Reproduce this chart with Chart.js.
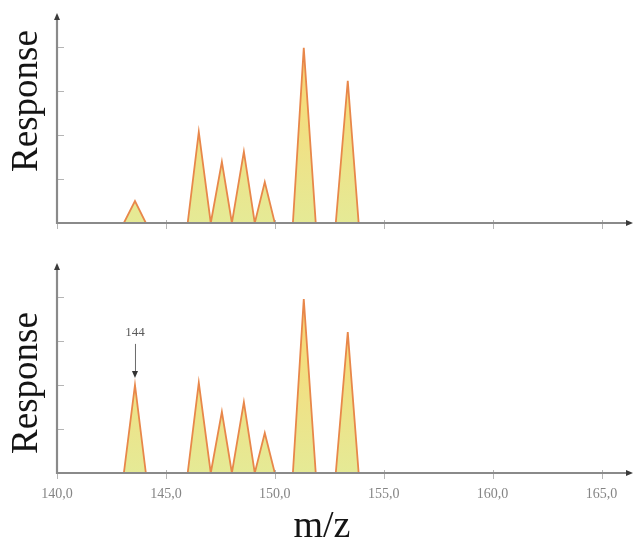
<!DOCTYPE html>
<html>
<head>
<meta charset="utf-8">
<script src="https://cdn.jsdelivr.net/npm/chart.js@4/dist/chart.umd.min.js"></script>
<style>
  html, body { margin: 0; padding: 0; background: #ffffff; }
  #wrap { position: relative; width: 633px; height: 542px; overflow: hidden; }
  canvas { position: absolute; left: 0; }
</style>
</head>
<body>
<div id="wrap">
  <canvas id="top" width="633" height="240" style="top:0"></canvas>
  <canvas id="bottom" width="633" height="302" style="top:240px"></canvas>
</div>
<script>
// ---- data (m/z vertices of each peak triangle; null separates peaks) ----
const mzValues = [143.07, 143.58, 144.08, 145.0, 146.0, 146.51, 147.06, 147.57, 148.03, 148.58, 149.08, 149.54, 150.0, 150.4, 150.83, 151.33, 151.88, 152.3, 152.8, 153.35, 153.85];
const responseTop = [0, 0.5, 0, null, 0, 2.07, 0, 1.39, 0, 1.62, 0, 0.93, 0, null, 0, 3.98, 0, null, 0, 3.23, 0];
const responseBottom = [0, 2.0, 0, null, 0, 2.05, 0, 1.39, 0, 1.61, 0, 0.91, 0, null, 0, 3.95, 0, null, 0, 3.2, 0];
const xTickValues = [140, 145, 150, 155, 160, 165];
const yTickValues = [1, 2, 3, 4];
const annotationMz = 143.58;
const annotationLabel = "144";
const yTitle = "Response";
const xTitle = "m/z";

function points(resp) { return mzValues.map((x, i) => ({ x: x, y: resp[i] })); }

function fillGradient(ctx) {
  const chart = ctx.chart;
  const a = chart.chartArea;
  if (!a) return 'rgba(240,226,130,0.8)';
  const g = chart.ctx.createLinearGradient(0, a.top, 0, a.bottom);
  g.addColorStop(0, '#f4c46e');
  g.addColorStop(0.4, '#f5dc7c');
  g.addColorStop(1, '#e5ea96');
  return g;
}

const axesPlugin = {
  id: 'axesPlugin',
  afterDatasetsDraw(chart, args, opts) {
    const { ctx, chartArea: a, scales: { x, y } } = chart;
    ctx.save();
    // y-axis ticks
    ctx.strokeStyle = '#b5b5b5'; ctx.lineWidth = 1;
    yTickValues.forEach(v => {
      const py = Math.round(y.getPixelForValue(v)) + 0.5;
      ctx.beginPath(); ctx.moveTo(a.left, py); ctx.lineTo(a.left + 7, py); ctx.stroke();
    });
    // x-axis ticks
    xTickValues.forEach(v => {
      const px = Math.round(x.getPixelForValue(v)) + 0.5;
      ctx.beginPath(); ctx.moveTo(px, a.bottom - 3); ctx.lineTo(px, a.bottom + 6); ctx.stroke();
    });
    // axis lines
    ctx.strokeStyle = '#8a8a8a'; ctx.lineWidth = 2.2;
    ctx.beginPath(); ctx.moveTo(a.left, a.bottom + 1); ctx.lineTo(a.left, a.top + 2); ctx.stroke();
    ctx.beginPath(); ctx.moveTo(a.left - 1, a.bottom); ctx.lineTo(a.right - 4, a.bottom); ctx.stroke();
    // arrow heads
    ctx.fillStyle = '#3a3a3a';
    ctx.beginPath(); ctx.moveTo(a.left, a.top - 3); ctx.lineTo(a.left - 3, a.top + 4); ctx.lineTo(a.left + 3, a.top + 4); ctx.closePath(); ctx.fill();
    ctx.beginPath(); ctx.moveTo(a.right + 1, a.bottom); ctx.lineTo(a.right - 6, a.bottom - 3); ctx.lineTo(a.right - 6, a.bottom + 3); ctx.closePath(); ctx.fill();
    // axis titles
    ctx.fillStyle = '#141414';
    ctx.font = '37px "Liberation Serif", "DejaVu Serif", serif';
    ctx.textAlign = 'center'; ctx.textBaseline = 'middle';
    ctx.save();
    ctx.translate(opts.yTitleX, opts.yTitleY);
    ctx.rotate(-Math.PI / 2);
    ctx.fillText(yTitle, 0, 0);
    ctx.restore();
    if (opts.showXTitle) {
      ctx.font = '38px "Liberation Serif", "DejaVu Serif", serif';
      ctx.textBaseline = 'alphabetic';
      ctx.fillText(xTitle, opts.xTitleX, opts.xTitleY);
    }
    if (opts.annotate) {
      const px = x.getPixelForValue(annotationMz);
      const py = y.getPixelForValue(responseBottom[mzValues.indexOf(annotationMz)]);
      ctx.fillStyle = '#5a5a5a';
      ctx.font = '13px "Liberation Serif", "DejaVu Serif", serif';
      ctx.textBaseline = 'middle';
      ctx.fillText(annotationLabel, px, py - 52);
      ctx.strokeStyle = '#6a6a6a'; ctx.lineWidth = 1;
      ctx.beginPath(); ctx.moveTo(px + 0.5, py - 41); ctx.lineTo(px + 0.5, py - 13); ctx.stroke();
      ctx.fillStyle = '#333';
      ctx.beginPath(); ctx.moveTo(px, py - 7); ctx.lineTo(px - 3, py - 14); ctx.lineTo(px + 3, py - 14); ctx.closePath(); ctx.fill();
    }
    ctx.restore();
  }
};

function makeChart(id, resp, showLabels, padTop, xHeight, pluginOpts) {
  return new Chart(document.getElementById(id), {
    type: 'line',
    data: {
      datasets: [{
        data: points(resp),
        borderColor: '#e8874a',
        borderWidth: 1.8,
        backgroundColor: fillGradient,
        fill: 'origin',
        pointRadius: 0,
        tension: 0,
        spanGaps: false
      }]
    },
    options: {
      responsive: false,
      animation: false,
      devicePixelRatio: 1,
      layout: { padding: { top: padTop, right: 1, left: 0, bottom: 0 } },
      plugins: { legend: { display: false }, tooltip: { enabled: false }, axesPlugin: pluginOpts },
      scales: {
        x: {
          type: 'linear', min: 140, max: 166.4,
          grid: { display: false, drawTicks: false },
          border: { display: false },
          afterBuildTicks: s => { s.ticks = xTickValues.map(v => ({ value: v })); },
          afterFit: s => { s.height = xHeight; },
          ticks: {
            display: showLabels,
            padding: 13,
            color: '#858585',
            font: { family: '"Liberation Serif", "DejaVu Serif", serif', size: 14 },
            callback: v => v.toFixed(1).replace('.', ',')
          }
        },
        y: {
          min: 0, max: 4.7,
          grid: { display: false, drawTicks: false },
          border: { display: false },
          ticks: { display: false },
          afterFit: s => { s.width = 57; }
        }
      }
    },
    plugins: [axesPlugin]
  });
}

makeChart('top', responseTop, false, 16, 17, { yTitleX: 27, yTitleY: 101, showXTitle: false, annotate: false });
makeChart('bottom', responseBottom, true, 26, 69, { yTitleX: 27, yTitleY: 143, showXTitle: true, xTitleX: 322, xTitleY: 297, annotate: true });
</script>
</body>
</html>
